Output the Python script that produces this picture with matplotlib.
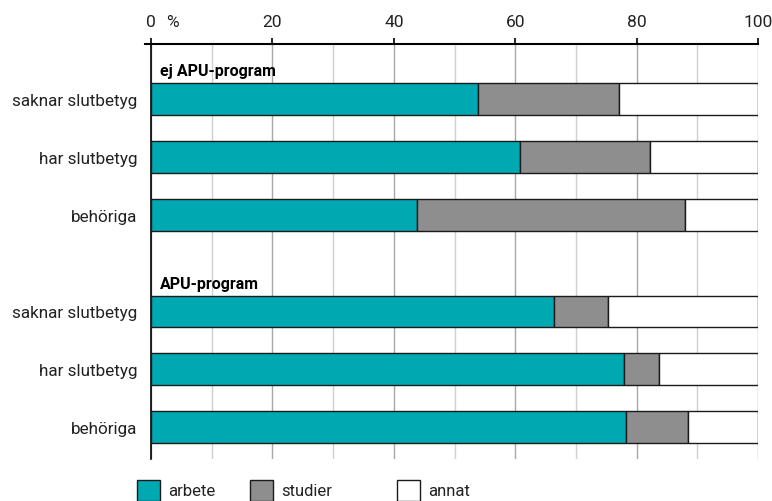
import matplotlib.pyplot as plt
from matplotlib.patches import Rectangle
from matplotlib.lines import Line2D

plt.rcParams['font.family'] = ['Roboto', 'DejaVu Sans']

# --- data ---
groups = ["ej APU-program", "APU-program"]
categories = ["saknar slutbetyg", "har slutbetyg", "behöriga"]
arbete_ej = [53.9, 60.8, 43.8]
studier_ej = [23.2, 21.4, 44.2]
arbete_apu = [66.4, 77.9, 78.3]
studier_apu = [8.9, 5.8, 10.1]
series = ["arbete", "studier", "annat"]
colors = ["#00a9b2", "#8e8e8e", "#ffffff"]

fig = plt.figure(figsize=(7.72, 5.02), dpi=100)
ax = fig.add_axes([0.1956, 0.0837, 0.7863, 0.8267])

group_start = [0.95, 4.62]
bar_h = 0.546
data = [(arbete_ej, studier_ej), (arbete_apu, studier_apu)]

yticks, ylabels = [], []
for g, (arb, stu) in enumerate(data):
    ys = [group_start[g] + i for i in range(len(categories))]
    ann = [100 - a - s for a, s in zip(arb, stu)]
    ax.barh(ys, arb, height=bar_h, color=colors[0], edgecolor="#1a1a1a", lw=1, zorder=3)
    ax.barh(ys, stu, left=arb, height=bar_h, color=colors[1], edgecolor="#1a1a1a", lw=1, zorder=3)
    ax.barh(ys, ann, left=[a + s for a, s in zip(arb, stu)], height=bar_h,
            color=colors[2], edgecolor="#1a1a1a", lw=1, zorder=3)
    ax.text(1.5, group_start[g] - 0.49, groups[g], fontsize=11.5, fontweight="bold",
            ha="left", va="center", zorder=4)
    yticks += ys
    ylabels += categories

ax.set_xlim(0, 100)
ax.set_ylim(7.17, 0)
ax.set_yticks(yticks)
ax.set_yticklabels(ylabels, fontsize=12.3, color="#222222")
ax.tick_params(axis="y", length=0, pad=10)

ax.xaxis.tick_top()
ax.set_xticks(range(0, 101, 20))
ax.set_xticklabels(["0", "20", "40", "60", "80", "100"], fontsize=12.5, color="#222222")
ax.set_xticks(range(10, 100, 20), minor=True)
ax.tick_params(axis="x", which="major", length=4, width=1.2, direction="out", pad=7)
ax.tick_params(axis="x", which="minor", length=0)
# "%" next to the zero label, same baseline as tick labels
ax.annotate("%", xy=(3.6, 1), xycoords=("data", "axes fraction"),
            xytext=(0, 11), textcoords="offset points",
            fontsize=12.5, color="#222222", ha="center", va="bottom")

ax.grid(axis="x", which="major", color="#a8a8a8", lw=1, zorder=0)
ax.grid(axis="x", which="minor", color="#d0d0d0", lw=1, zorder=0)

for s in ["right", "bottom"]:
    ax.spines[s].set_visible(False)
ax.spines["top"].set_linewidth(1.5)
ax.spines["left"].set_linewidth(1.2)
ax.add_line(Line2D([-1, 0], [0, 0], color="black", lw=1.5, clip_on=False))

# legend
W, H = 772, 502
lx = [137, 250, 397]
for x0, lab, c in zip(lx, series, colors):
    fig.add_artist(Rectangle((x0 / W, 0), 23 / W, 21 / H, transform=fig.transFigure,
                             facecolor=c, edgecolor="#1a1a1a", lw=1))
    fig.text((x0 + 31) / W, 10 / H, lab, fontsize=12, color="#222222", va="center")

fig.savefig("out.png", dpi=100)
